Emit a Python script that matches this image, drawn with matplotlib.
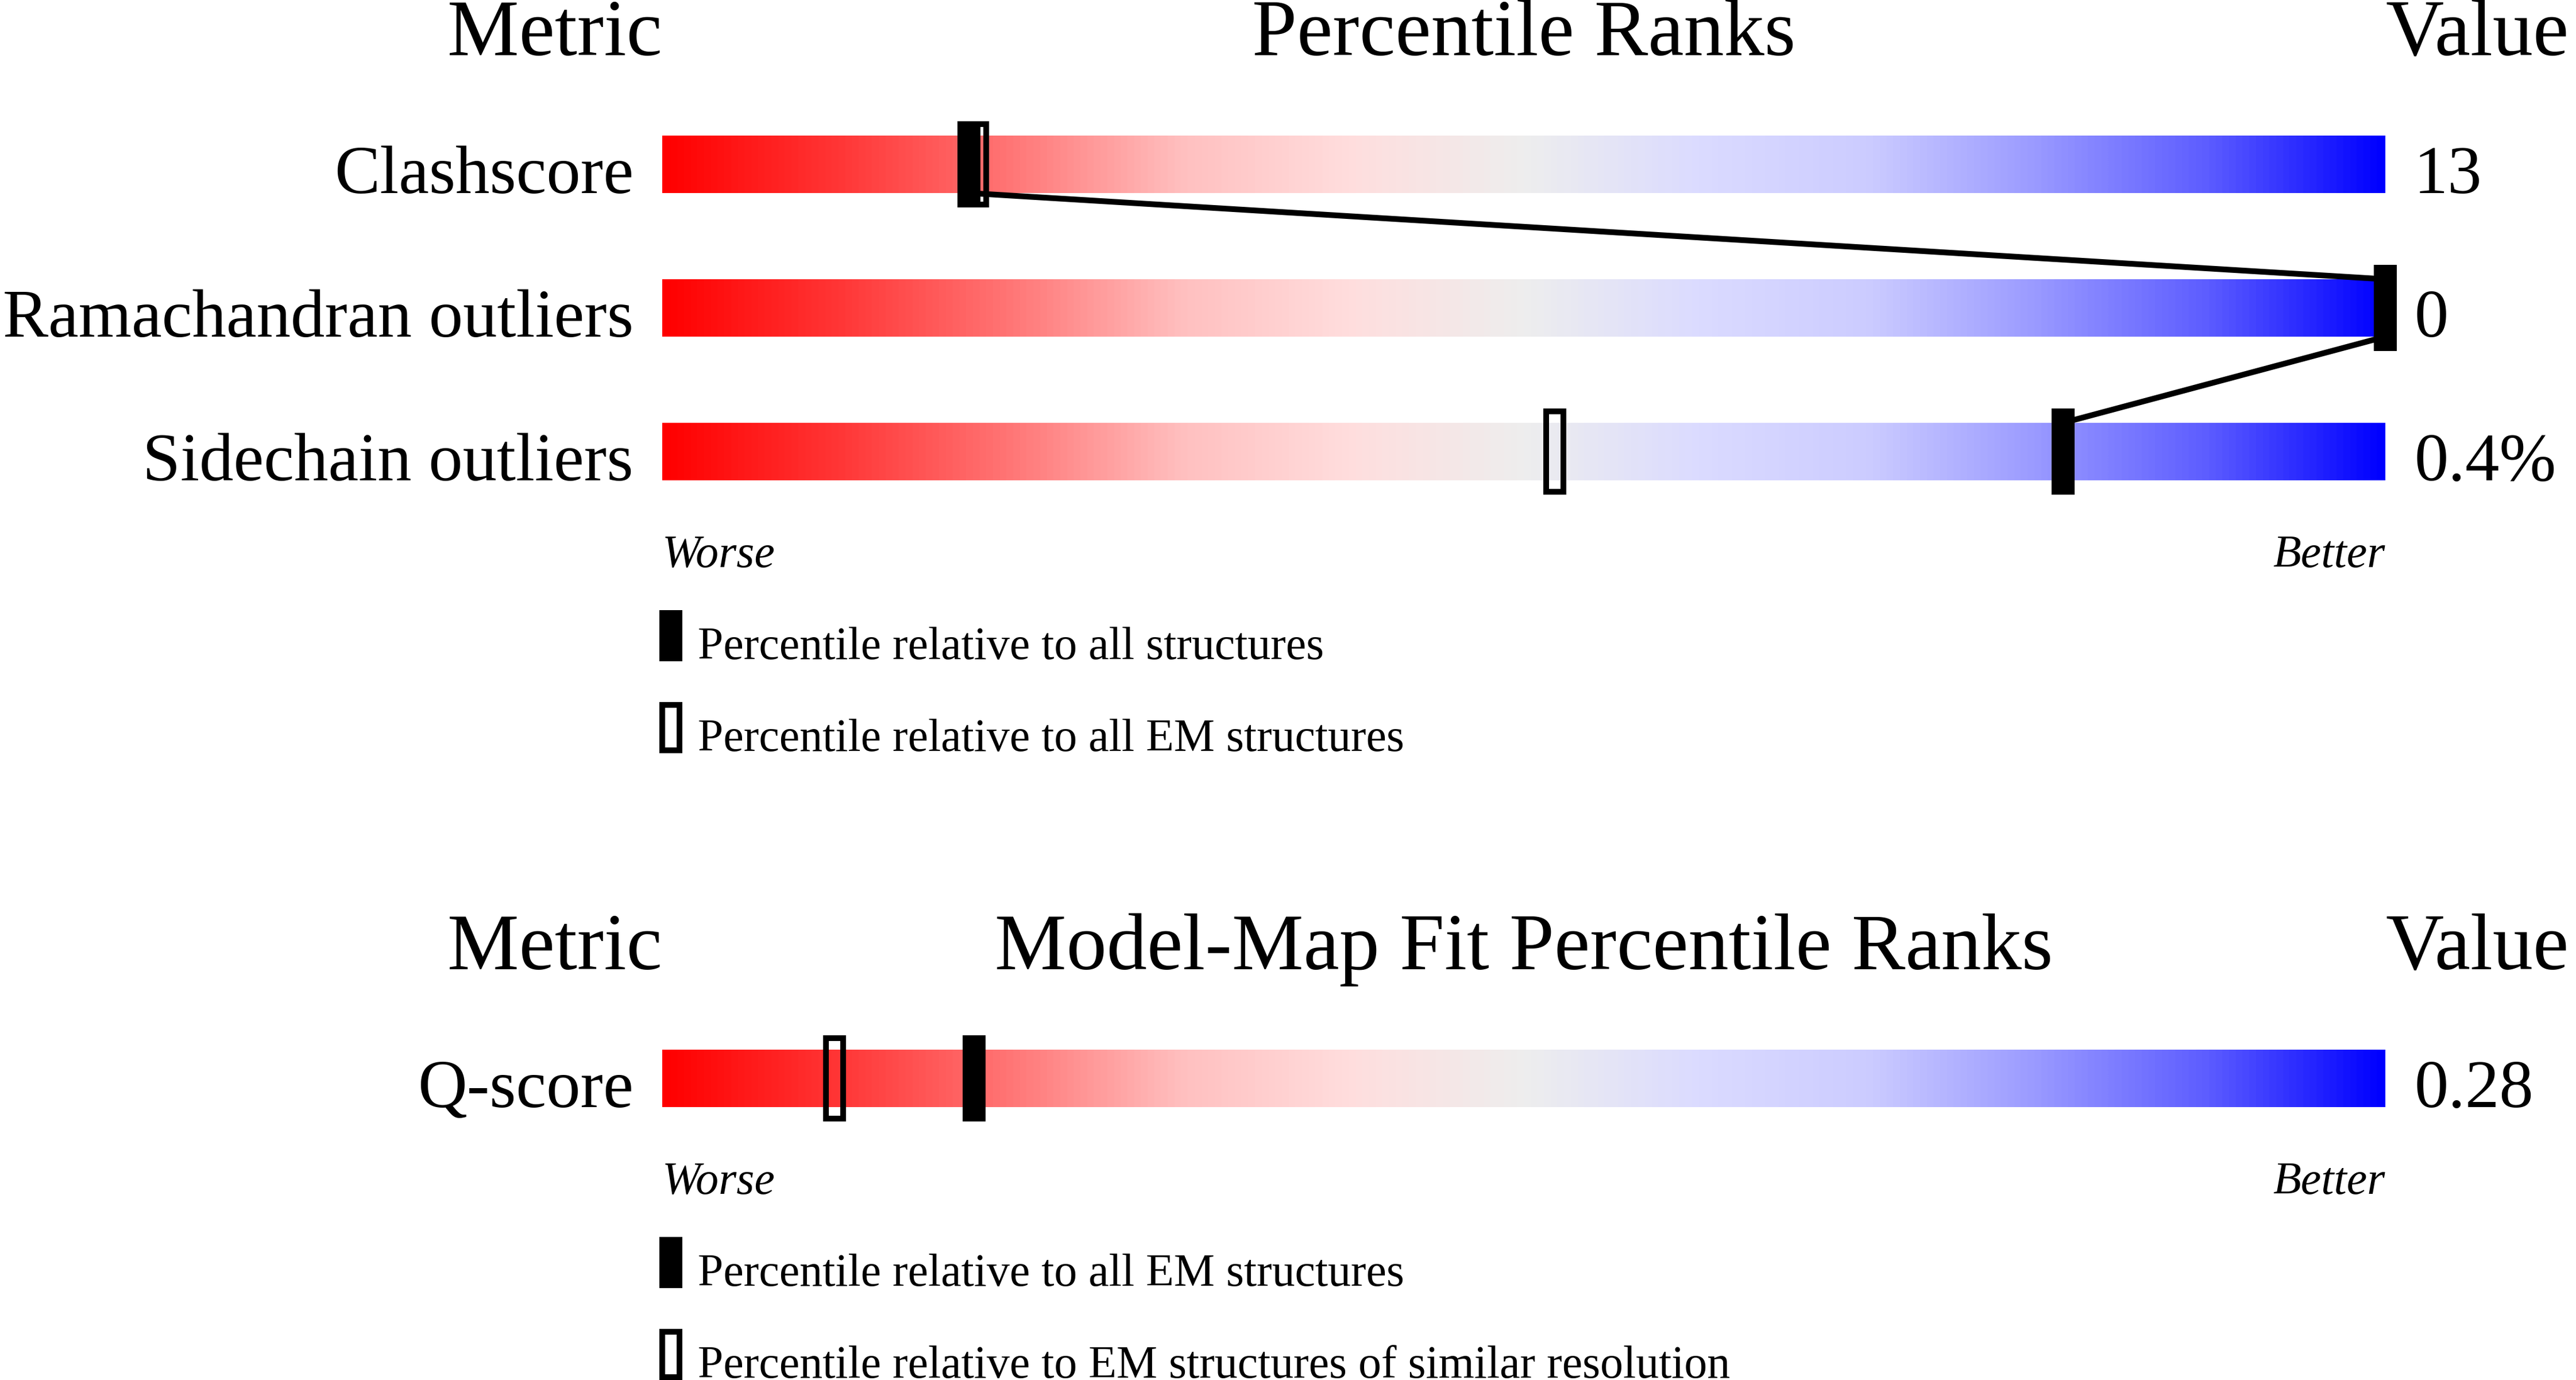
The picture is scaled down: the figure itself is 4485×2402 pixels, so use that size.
"""
Validation percentile sliders (wwPDB style): geometry + model-map fit.
"""

import matplotlib
matplotlib.use("Agg")
import matplotlib.pyplot as plt
import numpy as np
from matplotlib.colors import LinearSegmentedColormap
from matplotlib.patches import Rectangle

plt.rcParams["font.family"] = ["Liberation Serif", "DejaVu Serif"]

# data
geo_metrics = ["Clashscore", "Ramachandran outliers", "Sidechain outliers"]
geo_values = ["13", "0", "0.4%"]
geo_pct_all = [17.8, 100.0, 81.3]
geo_pct_em = [18.3, 100.0, 51.8]
geo_legend = ["Percentile relative to all structures",
              "Percentile relative to all EM structures"]

fit_metrics = ["Q-score"]
fit_values = ["0.28"]
fit_pct_all = [18.1]
fit_pct_em = [10.0]
fit_legend = ["Percentile relative to all EM structures",
              "Percentile relative to EM structures of similar resolution"]

# figure in pixels, x axis in percentile units (0..100 spans the bar)
W_PX, H_PX, DPI = 4485, 2402, 100
BAR_L, BAR_R = 1153, 4153
PX = (BAR_R - BAR_L) / 100.0          # pixels per percentile unit
PT = 72.0 / DPI                       # points per pixel

BAR_H = 100
ROW_STEP = 250
MARK_W = 40 / PX
MARK_OVER = 25
LW_PX = 10

FS_HEAD, FS_LABEL, FS_SMALL = 101, 85.5, 57.5

slider = LinearSegmentedColormap.from_list("slider", [
    (0.00, (1.00, 0.00, 0.00)),
    (0.10, (1.00, 0.21, 0.21)),
    (0.20, (1.00, 0.46, 0.46)),
    (0.30, (1.00, 0.75, 0.75)),
    (0.40, (1.00, 0.87, 0.87)),
    (0.50, (0.933, 0.933, 0.933)),
    (0.60, (0.86, 0.86, 1.00)),
    (0.70, (0.80, 0.80, 1.00)),
    (0.80, (0.60, 0.60, 1.00)),
    (0.90, (0.36, 0.36, 1.00)),
    (1.00, (0.00, 0.00, 1.00)),
])

fig = plt.figure(figsize=(W_PX / DPI, H_PX / DPI), dpi=DPI)
ax = fig.add_axes([0, 0, 1, 1])
ax.set_xlim(-BAR_L / PX, (W_PX - BAR_L) / PX)
ax.set_ylim(H_PX, 0)
ax.axis("off")

grad = np.linspace(0, 1, 512).reshape(1, -1)


def marker(x, top, filled):
    y0 = top - MARK_OVER
    h = BAR_H + 2 * MARK_OVER
    if filled:
        ax.add_patch(Rectangle((x - MARK_W / 2, y0), MARK_W, h,
                               facecolor="black", edgecolor="none", zorder=5))
    else:
        inset = LW_PX / 2
        ax.add_patch(Rectangle((x - MARK_W / 2 + inset / PX, y0 + inset),
                               MARK_W - LW_PX / PX, h - LW_PX,
                               facecolor="none", edgecolor="black",
                               linewidth=LW_PX * PT, joinstyle="miter",
                               zorder=6))


def panel(title, metrics, values, pct_all, pct_em, legend, y_head):
    ax.text(0, y_head, "Metric", ha="right", va="baseline", fontsize=FS_HEAD)
    ax.text(50, y_head, title, ha="center", va="baseline", fontsize=FS_HEAD)
    ax.text(100, y_head, "Value", ha="left", va="baseline", fontsize=FS_HEAD)

    tops = [y_head + 140 + i * ROW_STEP for i in range(len(metrics))]
    for name, val, top, pa, pe in zip(metrics, values, tops, pct_all, pct_em):
        ax.imshow(grad, cmap=slider, aspect="auto", interpolation="bilinear",
                  extent=[0, 100, top + BAR_H, top], zorder=1)
        ax.text(-50 / PX, top + BAR_H, name, ha="right", va="baseline",
                fontsize=FS_LABEL)
        ax.text(100 + 50 / PX, top + BAR_H, val, ha="left", va="baseline",
                fontsize=FS_LABEL)
        marker(pe, top, filled=False)
        marker(pa, top, filled=True)

    # connect the "all structures" markers row to row
    for i in range(len(metrics) - 1):
        ax.plot([pct_all[i], pct_all[i + 1]], [tops[i] + BAR_H, tops[i + 1]],
                color="black", linewidth=LW_PX * PT, solid_capstyle="butt",
                zorder=4)

    last = tops[-1] + BAR_H
    ax.text(0, last + 151, "Worse", ha="left", va="baseline",
            fontsize=FS_SMALL, style="italic")
    ax.text(100, last + 151, "Better", ha="right", va="baseline",
            fontsize=FS_SMALL, style="italic")

    for j, (txt, filled) in enumerate(zip(legend, [True, False])):
        base = last + 311 + j * 160
        top = base - 85
        if filled:
            ax.add_patch(Rectangle((-5 / PX, top), MARK_W, 89,
                                   facecolor="black", edgecolor="none"))
        else:
            inset = LW_PX / 2
            ax.add_patch(Rectangle((-5 / PX + inset / PX, top + inset),
                                   MARK_W - LW_PX / PX, 89 - LW_PX,
                                   facecolor="none", edgecolor="black",
                                   linewidth=LW_PX * PT, joinstyle="miter"))
        ax.text(62 / PX, base, txt, ha="left", va="baseline",
                fontsize=FS_SMALL)


panel("Percentile Ranks", geo_metrics, geo_values, geo_pct_all, geo_pct_em,
      geo_legend, 96)
panel("Model-Map Fit Percentile Ranks", fit_metrics, fit_values, fit_pct_all,
      fit_pct_em, fit_legend, 1687)

fig.savefig("out.png", dpi=DPI, facecolor="white")
